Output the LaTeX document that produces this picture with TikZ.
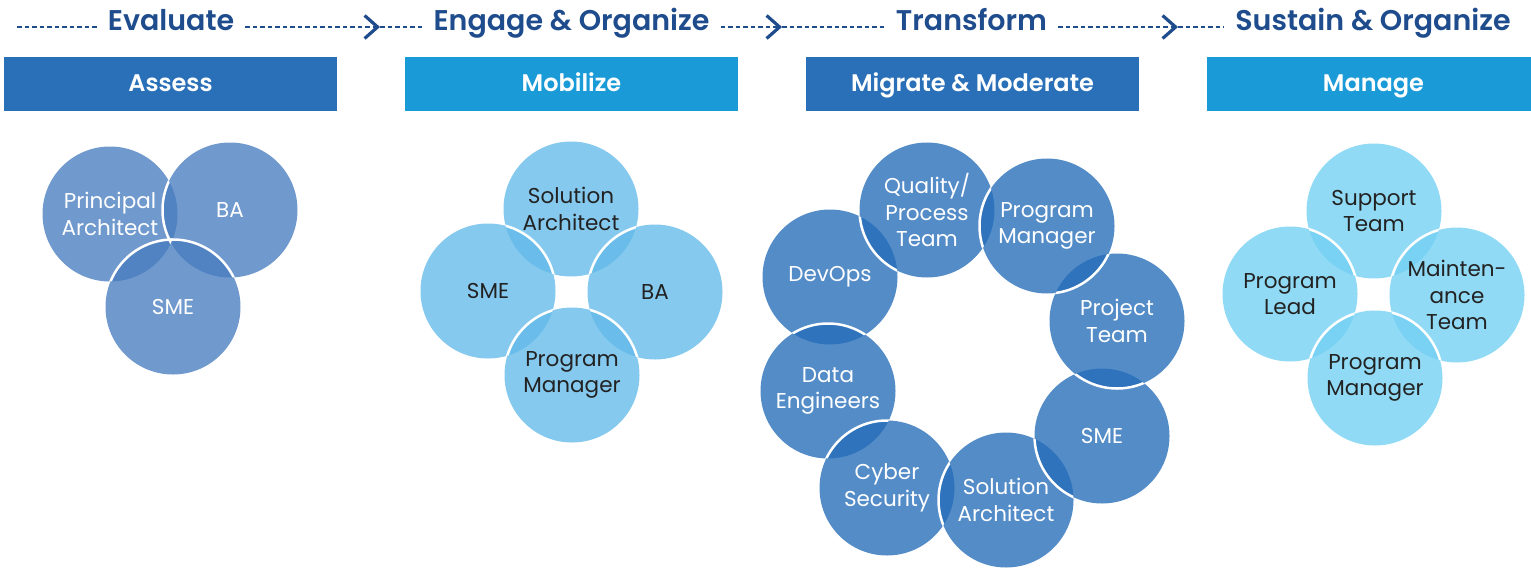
\documentclass[tikz,border=0pt]{standalone}
\usepackage{fontspec}
\setmainfont{Poppins}[BoldFont={Poppins SemiBold}]
\usetikzlibrary{arrows.meta}

\definecolor{navy}{HTML}{1E4C8C}
\definecolor{deepblue}{HTML}{2A70B8}
\definecolor{skyblue}{HTML}{1A9BD8}
\definecolor{assessfill}{HTML}{487CBF}
\definecolor{migratefill}{HTML}{246CB8}
\definecolor{mobilfill}{HTML}{63BAE9}
\definecolor{managefill}{HTML}{72D0F2}
\definecolor{inkgray}{HTML}{222222}

\tikzset{
  phase/.style={font=\bfseries\fontsize{28.5}{30}\selectfont, text=navy, inner xsep=11pt, anchor=base},
  band/.style={minimum width=333pt, minimum height=54pt, inner sep=0pt, text height=16pt, text depth=0.8pt,
    font=\bfseries\fontsize{24}{26}\selectfont, text=white},
  role/.style={circle, minimum size=135pt, inner sep=0pt, align=center, fill opacity=0.78, text opacity=1,
    font=\fontsize{21.5}{26.5}\selectfont},
  flow/.style={navy, line width=2.8pt, dash pattern=on 4.5pt off 3pt},
  rim/.style={white, line width=2.5pt},
}

\begin{document}
\begin{tikzpicture}[x=1pt, y=-1pt]
    \useasboundingbox (0,0) rectangle (1531,568);

    % Phase titles
    \node[phase] (evaluate) at (171,30) {Evaluate};
    \node[phase] (engage) at (571.5,30) {Engage \& Organize};
    \node[phase] (transform) at (971.5,30) {Transform};
    \node[phase] (sustain) at (1373,30) {Sustain \& Organize};

    % Dashed flow line with arrow marks
    \coordinate (start) at (17,27);
    \coordinate (tipA) at (380,27);
    \coordinate (tipB) at (782,27);
    \coordinate (tipC) at (1178,27);
    \draw[flow] (start) -- (start -| evaluate.west);
    \foreach \a/\t/\b in {evaluate/tipA/engage, transform/tipC/sustain} {
        \draw[flow, -{Straight Barb[length=13pt, width=23pt, line width=3.2pt]}] (start -| \a.east) -- (\t);
        \draw[flow] (\t) -- (start -| \b.west);
    }
    \draw[flow, -{Straight Barb[length=13pt, width=23pt, line width=3.2pt]}] (start -| engage.east) -- (tipB);
    \draw[flow] (tipB) -- (start -| transform.west);

    % Stage bands
    \node[band, fill=deepblue] (assess) at (170.5,84) {Assess};
    \node[band, fill=skyblue] (mobilize) at (571.5,84) {Mobilize};
    \node[band, fill=deepblue] (migrate) at (972.5,84) {Migrate \& Moderate};
    \node[band, fill=skyblue] (manage) at (1373.5,84) {Manage};

    % Assess roles
    \foreach \name/\x/\y/\txt in {pa/110/214/{Principal\\Architect}, ba/230/210/BA, asme/173/307/SME} {
        \node[role, fill=assessfill, text=white] (\name) at (\x,\y) {\txt};
    }

    % Mobilize roles
    \foreach \name/\x/\y/\txt in {mobsa/571/209/{Solution\\Architect}, mobsme/488/291/SME,
        mobba/655/292/BA, mobpm/572/375/{Program\\Manager}} {
        \node[role, fill=mobilfill, text=inkgray] (\name) at (\x,\y) {\txt};
    }

    % Transform roles (ring)
    \foreach \name/\x/\y/\txt in {devops/830/277/DevOps, data/828/391/{Data\\Engineers},
        cyber/887/488/{Cyber\\Security}, solarch/1006/500/{Solution\\Architect}, tsme/1102/436/SME,
        project/1117/321/{Project\\Team}, quality/927/210/{Quality/\\Process\\Team},
        progman/1047/226/{Program\\Manager}} {
        \node[role, fill=migratefill, text=white] (\name) at (\x,\y) {\txt};
    }

    % Manage roles
    \foreach \name/\x/\y/\txt in {support/1374/211/{Support\\Team}, lead/1290/294/{Program\\Lead},
        maint/1457/295/{Mainten-\\ance\\Team}, manpm/1375/378/{Program\\Manager}} {
        \node[role, fill=managefill, text=inkgray] (\name) at (\x,\y) {\txt};
    }

    % White rims where a circle lies over an earlier one
    \foreach \top/\low in {ba/pa, asme/pa, asme/ba,
        mobsme/mobsa, mobba/mobsa, mobpm/mobsme, mobpm/mobba,
        data/devops, cyber/data, solarch/cyber, tsme/solarch, project/tsme,
        quality/devops, progman/quality, progman/project,
        lead/support, maint/support, manpm/lead, manpm/maint} {
        \begin{scope}
            \clip (\low.center) circle (67.5);
            \draw[rim] (\top.center) circle (67.5);
        \end{scope}
    }
\end{tikzpicture}
\end{document}
